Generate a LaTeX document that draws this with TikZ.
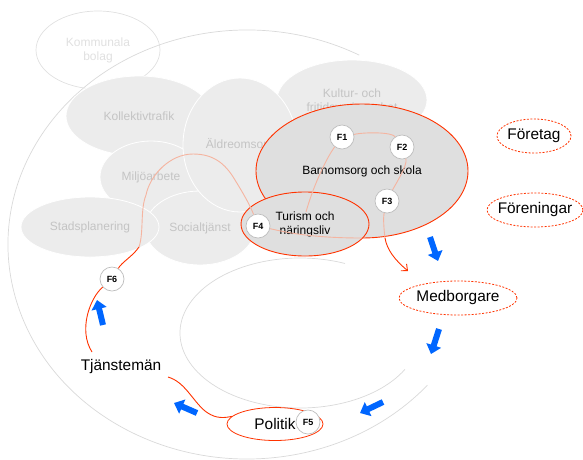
\documentclass[tikz,border=0pt]{standalone}
\usepackage{fontspec}
\setmainfont{Liberation Sans}
\usetikzlibrary{shapes.geometric,arrows.meta}
\definecolor{blobgrey}{HTML}{ECECEC}
\definecolor{focusgrey}{HTML}{DFDFDF}
\definecolor{labelgrey}{HTML}{C4C4C4}
\definecolor{ghostgrey}{HTML}{E0E0E0}
\definecolor{arcgrey}{HTML}{D9D9D9}
\definecolor{ringgrey}{HTML}{BDBDBD}
\definecolor{linkred}{HTML}{FF3300}
\definecolor{palered}{HTML}{F5B4A0}
\definecolor{pushblue}{HTML}{0066FF}
\tikzset{
  spiral/.style={draw=arcgrey,line width=0.7pt},
  unit/.style={ellipse,fill=blobgrey,draw=white,line width=0.8pt,inner sep=0pt,
    text=labelgrey,align=center,font=\fontsize{12}{14}\selectfont},
  ghost/.style={ellipse,draw=ghostgrey,line width=0.7pt,inner sep=0pt,
    text=ghostgrey,align=center,font=\fontsize{12}{14}\selectfont},
  focus/.style={ellipse,fill=focusgrey,draw=linkred,line width=0.9pt,inner sep=0pt,
    align=center,font=\fontsize{12}{14}\selectfont},
  actor/.style={ellipse,draw=linkred,line width=0.8pt,dash pattern=on 2pt off 1.5pt,
    inner sep=0pt,inner xsep=-6pt,font=\fontsize{15.4}{18}\selectfont},
  plain/.style={inner sep=0pt,font=\fontsize{15.4}{18}\selectfont},
  fcirc/.style={circle,fill=white,draw=ringgrey,line width=0.7pt,minimum size=24pt,
    inner sep=0pt,font=\bfseries\fontsize{9}{10}\selectfont},
  flow/.style={draw=linkred,line width=0.9pt},
  faint/.style={draw=palered,line width=0.9pt},
  push/.style={draw=pushblue,line width=6pt,-{Triangle[width=15pt,length=9pt]}}
}
\begin{document}
\begin{tikzpicture}[x=1pt,y=-1pt]
\useasboundingbox (0,0) rectangle (583,459);
%spiral
\draw[spiral] (247,244.5) ++(62:239pt and 214.5pt) arc[start angle=62,end angle=319,x radius=239pt,y radius=214.5pt];
\draw[spiral] (300,333) ++(68:120pt and 75pt) arc[start angle=68,end angle=331,x radius=120pt,y radius=75pt];
%units
\node[ghost,minimum width=124pt,minimum height=78pt] (kom) at (98,50) {Kommunala\\bolag};
\node[unit,minimum width=150pt,minimum height=80pt] (kul) at (352,100) {Kultur- och\\fritidsverksamhet};
\node[unit,minimum width=146pt,minimum height=80pt] (kol) at (139,116) {Kollektivtrafik};
\node[unit,minimum width=102pt,minimum height=72pt] (mil) at (151,177) {Miljöarbete};
\node[unit,minimum width=110pt,minimum height=74pt] (soc) at (200,228) {Socialtjänst};
\node[unit,minimum width=138pt,minimum height=60pt] (sta) at (90,227) {Stadsplanering};
\node[unit,minimum width=114pt,minimum height=134pt] (ald) at (240,145) {Äldreomsorg};
%focus
\node[focus,minimum width=212pt,minimum height=134pt] (bar) at (362,171) {Barnomsorg och skola};
\node[focus,minimum width=128pt,minimum height=64pt] (tur) at (305,224) {Turism och\\näringsliv};
%actors
\node[actor,minimum width=118pt,minimum height=34pt] (med) at (458,298) {Medborgare};
\node[actor,minimum width=74pt,minimum height=34pt] (fore) at (534,136) {Företag};
\node[actor,minimum width=96pt,minimum height=34pt,inner xsep=-8pt] (foren) at (535,210) {Föreningar};
\node[actor,solid,fill=white,minimum width=96pt,minimum height=33pt] (pol) at (275,424) {Politik};
\node[plain] (tjm) at (121,367) {Tjänstemän};
%steps
\node[fcirc] (f1) at (342,137) {F1};
\node[fcirc] (f2) at (402,147) {F2};
\node[fcirc] (f3) at (387,201) {F3};
\node[fcirc] (f4) at (258,226) {F4};
\node[fcirc] (f5) at (308,422) {F5};
\node[fcirc] (f6) at (112,279) {F6};
%flow
\coordinate (tjmtop) at (92,352);
\coordinate (tjmright) at (168,377);
\coordinate (fadeA) at (139,247);
\coordinate (fadeB) at (362,238);
\coordinate (fadeC) at (306,212);
\coordinate (leave) at (385,238);
\coordinate (medtip) at (408,271);
\draw[flow] (tjmtop) .. controls (78,330) and (90,298) .. (f6);
\draw[flow] (f6) .. controls (122,262) and (133,256) .. (fadeA);
\draw[faint] (fadeA) .. controls (144,232) and (140,210) .. (146,195)
  .. controls (150,175) and (170,154) .. (193,154)
  .. controls (213,154) and (225,163) .. (235,180)
  .. controls (243,193) and (250,205) .. (f4);
\draw[faint] (f4) .. controls (285,232) and (310,238) .. (fadeB);
\draw[faint] (f1) .. controls (325,160) and (312,190) .. (fadeC);
\draw[faint] (f1) .. controls (365,132) and (392,132) .. (f2);
\draw[faint] (f2) .. controls (408,165) and (395,185) .. (f3);
\draw[faint] (f3) .. controls (383,218) and (384,230) .. (leave);
\draw[flow,-{Straight Barb[length=5pt,width=9pt]}] (leave) .. controls (387,250) and (395,260) .. (medtip);
\draw[flow] (tjmright) .. controls (185,382) and (192,400) .. (205,411) .. controls (213,417) and (220,419) .. (pol.170);
%pushes
\draw[push] (430,237) -- (438,261);
\draw[push] (439,329) -- (431,354);
\draw[push] (383,402) -- (360,413);
\draw[push] (197,413) -- (174,403);
\draw[push] (103,325) -- (97,300);
\end{tikzpicture}
\end{document}
